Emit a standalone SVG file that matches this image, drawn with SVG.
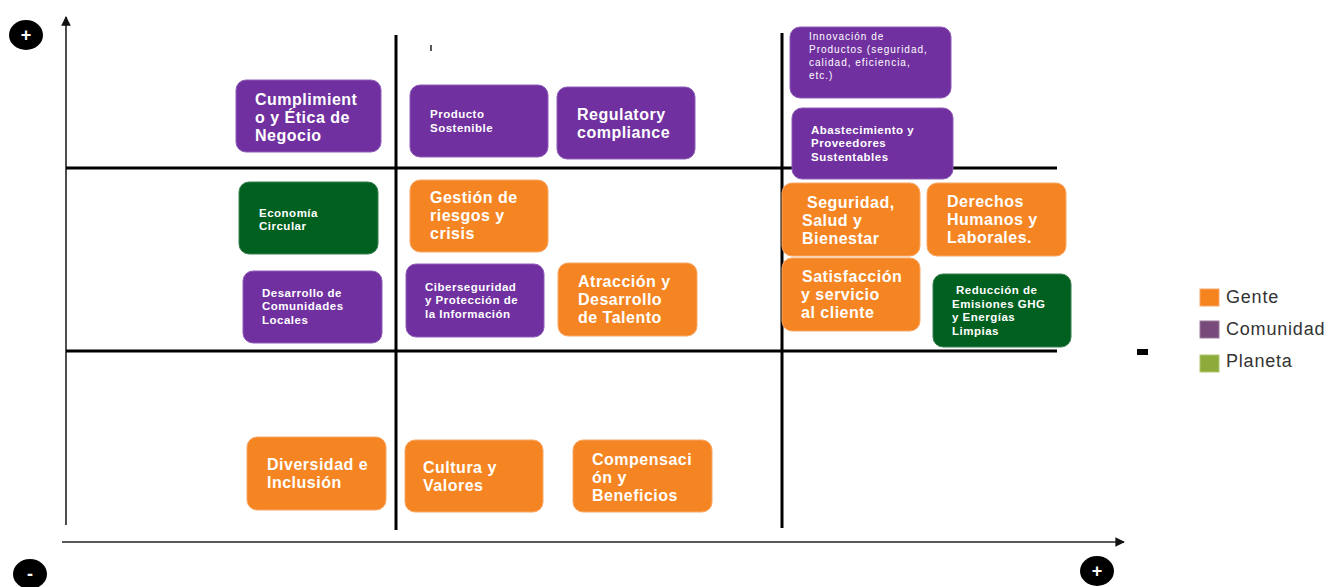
<svg xmlns="http://www.w3.org/2000/svg" width="1329" height="587" viewBox="0 0 1329 587">
<style>
  .box { stroke-width: 1; }
  .p { fill: #7030A0; stroke: #8E5CB8; }
  .o { fill: #F58522; stroke: #F8A866; }
  .g { fill: #006020; stroke: #3A8050; }
  .big { font-family: "Liberation Sans", Arial, sans-serif; font-weight: bold; font-size: 16px; letter-spacing: 0.5px; fill: #ffffff; }
  .sm { font-family: "Liberation Sans", Arial, sans-serif; font-weight: bold; font-size: 11.5px; letter-spacing: 0.5px; fill: #ffffff; }
  .xs { font-family: "Liberation Sans", Arial, sans-serif; font-size: 10px; letter-spacing: 1px; fill: #ffffff; }
  .leg { font-family: "Liberation Sans", Arial, sans-serif; font-size: 18px; letter-spacing: 0.8px; fill: #333333; }
  .grid { stroke: #000000; stroke-width: 3; fill: none; }
  .axis { stroke: #222222; stroke-width: 1.6; fill: none; }
  .sign { font-family: "Liberation Sans", Arial, sans-serif; font-weight: bold; fill: #ffffff; text-anchor: middle; }
</style>
<defs>
  <marker id="arr" viewBox="0 0 10 10" refX="9" refY="5" markerWidth="6" markerHeight="6" orient="auto" markerUnits="strokeWidth">
    <path d="M0,0 L10,5 L0,10 z" fill="#111111"/>
  </marker>
</defs>
<rect width="1329" height="587" fill="#ffffff"/>

<g id="connectors">
  <line class="axis" x1="66" y1="525" x2="66" y2="17" marker-end="url(#arr)"/>
  <line class="axis" x1="62" y1="542" x2="1124" y2="542" marker-end="url(#arr)"/>
  <line class="grid" x1="396" y1="35" x2="396" y2="530"/>
  <line class="grid" x1="782" y1="33" x2="782" y2="528"/>
  <line class="grid" x1="66" y1="168" x2="1057" y2="168"/>
  <line class="grid" x1="66" y1="351" x2="1057" y2="351"/>
  <line x1="431" y1="45" x2="431" y2="51" stroke="#222" stroke-width="1.5"/>
</g>

<g id="signs">
  <ellipse cx="26" cy="35" rx="17" ry="15" fill="#000"/>
  <text class="sign" x="26" y="41" font-size="18">+</text>
  <ellipse cx="30" cy="574" rx="17" ry="15" fill="#000"/>
  <text class="sign" x="30" y="580" font-size="18">-</text>
  <ellipse cx="1097" cy="571" rx="17" ry="15" fill="#000"/>
  <text class="sign" x="1097" y="577" font-size="18">+</text>
  <rect x="1137" y="349" width="11" height="6" fill="#000"/>
</g>

<g id="n-cumplimiento">
  <rect class="box p" x="236" y="80" width="145" height="72" rx="10"/>
  <text class="big" x="255"><tspan x="255" y="105">Cumplimient</tspan><tspan x="255" y="123">o y Ética de</tspan><tspan x="255" y="141">Negocio</tspan></text>
</g>
<g id="n-producto">
  <rect class="box p" x="410" y="85" width="138" height="72" rx="10"/>
  <text class="sm"><tspan x="430" y="118">Producto</tspan><tspan x="430" y="132">Sostenible</tspan></text>
</g>
<g id="n-regulatory">
  <rect class="box p" x="557" y="87" width="138" height="72" rx="10"/>
  <text class="big"><tspan x="577" y="120">Regulatory</tspan><tspan x="577" y="138">compliance</tspan></text>
</g>
<g id="n-innovacion">
  <rect class="box p" x="790" y="27" width="161" height="71" rx="10"/>
  <text class="xs"><tspan x="809" y="40">Innovación de</tspan><tspan x="809" y="53">Productos (seguridad,</tspan><tspan x="809" y="66">calidad, eficiencia,</tspan><tspan x="809" y="79">etc.)</tspan></text>
</g>
<g id="n-abastecimiento">
  <rect class="box p" x="792" y="108" width="161" height="71" rx="10"/>
  <text class="sm"><tspan x="811" y="134">Abastecimiento y</tspan><tspan x="811" y="147">Proveedores</tspan><tspan x="811" y="161">Sustentables</tspan></text>
</g>
<g id="n-economia">
  <rect class="box g" x="239" y="182" width="139" height="72" rx="10"/>
  <text class="sm"><tspan x="259" y="217">Economía</tspan><tspan x="259" y="230">Circular</tspan></text>
</g>
<g id="n-gestion">
  <rect class="box o" x="410" y="180" width="138" height="72" rx="10"/>
  <text class="big"><tspan x="430" y="203">Gestión de</tspan><tspan x="430" y="221">riesgos y</tspan><tspan x="430" y="239">crisis</tspan></text>
</g>
<g id="n-seguridad">
  <rect class="box o" x="782" y="183" width="138" height="73" rx="10"/>
  <text class="big"><tspan x="807" y="208">Seguridad,</tspan><tspan x="802" y="226">Salud y</tspan><tspan x="802" y="244">Bienestar</tspan></text>
</g>
<g id="n-derechos">
  <rect class="box o" x="927" y="183" width="139" height="73" rx="10"/>
  <text class="big"><tspan x="947" y="207">Derechos</tspan><tspan x="947" y="225">Humanos y</tspan><tspan x="947" y="243">Laborales.</tspan></text>
</g>
<g id="n-desarrollo">
  <rect class="box p" x="243" y="271" width="139" height="72" rx="10"/>
  <text class="sm"><tspan x="262" y="297">Desarrollo de</tspan><tspan x="262" y="310">Comunidades</tspan><tspan x="262" y="324">Locales</tspan></text>
</g>
<g id="n-ciberseguridad">
  <rect class="box p" x="406" y="264" width="138" height="73" rx="10"/>
  <text class="sm"><tspan x="425" y="291">Ciberseguridad</tspan><tspan x="425" y="304">y Protección de</tspan><tspan x="425" y="318">la Información</tspan></text>
</g>
<g id="n-atraccion">
  <rect class="box o" x="558" y="263" width="139" height="73" rx="10"/>
  <text class="big"><tspan x="578" y="287">Atracción y</tspan><tspan x="578" y="305">Desarrollo</tspan><tspan x="578" y="323">de Talento</tspan></text>
</g>
<g id="n-satisfaccion">
  <rect class="box o" x="782" y="258" width="138" height="73" rx="10"/>
  <text class="big"><tspan x="802" y="282">Satisfacción</tspan><tspan x="801" y="300">y servicio</tspan><tspan x="801" y="318">al cliente</tspan></text>
</g>
<g id="n-reduccion">
  <rect class="box g" x="933" y="274" width="138" height="73" rx="10"/>
  <text class="sm"><tspan x="956" y="294">Reducción de</tspan><tspan x="952" y="308">Emisiones GHG</tspan><tspan x="952" y="321">y Energías</tspan><tspan x="952" y="335">Limpias</tspan></text>
</g>
<g id="n-diversidad">
  <rect class="box o" x="247" y="437" width="139" height="73" rx="10"/>
  <text class="big"><tspan x="267" y="470">Diversidad e</tspan><tspan x="267" y="488">Inclusión</tspan></text>
</g>
<g id="n-cultura">
  <rect class="box o" x="405" y="440" width="138" height="72" rx="10"/>
  <text class="big"><tspan x="423" y="473">Cultura y</tspan><tspan x="423" y="491">Valores</tspan></text>
</g>
<g id="n-compensacion">
  <rect class="box o" x="573" y="440" width="139" height="72" rx="10"/>
  <text class="big"><tspan x="592" y="465">Compensaci</tspan><tspan x="592" y="483">ón y</tspan><tspan x="592" y="501">Beneficios</tspan></text>
</g>

<g id="legend">
  <rect x="1200" y="289" width="19" height="17" fill="#F5841F" stroke="#F8A866" stroke-width="1"/>
  <text class="leg" x="1226" y="303">Gente</text>
  <rect x="1200" y="321" width="19" height="17" fill="#784A7B" stroke="#9A7A9C" stroke-width="1"/>
  <text class="leg" x="1226" y="335">Comunidad</text>
  <rect x="1200" y="355" width="19" height="17" fill="#8DAA3A" stroke="#B0C870" stroke-width="1"/>
  <text class="leg" x="1226" y="367">Planeta</text>
</g>
</svg>
